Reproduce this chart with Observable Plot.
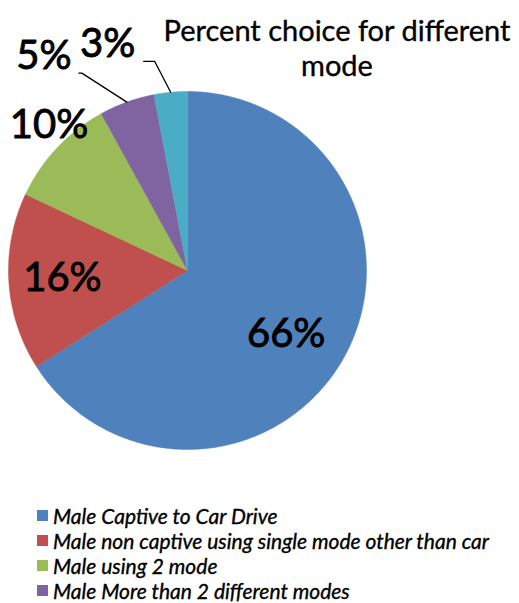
<!DOCTYPE html>
<html>
<head>
<meta charset="utf-8">
<script src="https://cdn.jsdelivr.net/npm/d3@7"></script>
<script src="https://cdn.jsdelivr.net/npm/@observablehq/plot@0.6"></script>
<style>
  html, body { margin: 0; padding: 0; background: #fff; }
  body { width: 519px; height: 603px; overflow: hidden; position: relative; font-family: Lato, "Open Sans", sans-serif; }
  #title { position: absolute; left: 147px; top: 12px; width: 380px; text-align: center; font-size: 29px; line-height: 35px; color: #000; -webkit-text-stroke: 0.35px #000; }
  #chart { position: absolute; left: 0; top: 0; }
  #legend { position: absolute; left: 37px; top: 503px; font-style: italic; font-size: 21px; color: #000; -webkit-text-stroke: 0.35px #000; }
  .row { height: 25px; display: flex; align-items: center; white-space: nowrap; }
  .row span.t { line-height: 1; }
  .sw { width: 11px; height: 11px; margin-right: 5px; flex: none; -webkit-text-stroke: 0; }
</style>
</head>
<body>
<div id="chart"></div>
<div id="title">Percent choice for different<br>mode</div>
<div id="legend"></div>
<script>
// ---- data ----
const categories = [
  "Male Captive to Car Drive",
  "Male non captive using single mode other than car",
  "Male using 2 mode",
  "Male More than 2 different modes",
  "Male other"
];
const percents = [66, 16, 10, 5, 3];
const colors = ["#4F81BD", "#C0504D", "#9BBB59", "#8064A2", "#4BACC6"];
const legendShown = 4; // the fifth entry falls below the visible frame

// ---- layout / style (pixels) ----
const W = 519, H = 500;
const R = 179; // pixel radius implied by scale ranges below
const labelStyle = [
  {type: "inside", f: 0.68, dx: -8, dy: 5},
  {type: "inside", f: 0.70, dx: 0, dy: 0},
  {type: "outside", dx: -8, dy: -23},
  {type: "leader", elbow: [-45, -29], seg: -3, text: [-35, -17]},
  {type: "leader", elbow: [-16, -31], seg: -11, text: [-36, -17]}
];

const data = categories.map((c, i) => ({key: c, value: percents[i], color: colors[i], i}));
const arcs = d3.pie().value(d => d.value).sort(null).startAngle(0).endAngle(2 * Math.PI)(data);

// slice polygons
const poly = [];
for (const a of arcs) {
  poly.push({key: a.data.key, x: 0, y: 0});
  const n = Math.max(2, Math.ceil((a.endAngle - a.startAngle) / (Math.PI / 360)));
  for (let k = 0; k <= n; k++) {
    const t = a.startAngle + (a.endAngle - a.startAngle) * k / n;
    poly.push({key: a.data.key, x: Math.sin(t), y: Math.cos(t)});
  }
  poly.push({key: a.data.key, x: 0, y: 0});
}

// labels and leader lines
const labels = [];
const leaders = [];
arcs.forEach((a, i) => {
  const s = labelStyle[i];
  const m = (a.startAngle + a.endAngle) / 2;
  const ax = Math.sin(m), ay = Math.cos(m);
  const txt = a.data.value + "%";
  if (s.type === "inside") {
    labels.push({x: ax * s.f + s.dx / R, y: ay * s.f - s.dy / R, text: txt});
  } else if (s.type === "outside") {
    labels.push({x: ax + s.dx / R, y: ay - s.dy / R, text: txt});
  } else {
    const ex = ax + s.elbow[0] / R, ey = ay - s.elbow[1] / R;
    const hx = ex + s.seg / R;
    leaders.push({id: i, x: ax, y: ay}, {id: i, x: ex, y: ey}, {id: i, x: hx, y: ey});
    labels.push({x: hx + s.text[0] / R, y: ey - s.text[1] / R, text: txt});
  }
});

const plot = Plot.plot({
  width: W,
  height: H,
  marginLeft: 8,
  marginRight: W - 8 - 2 * R,
  marginTop: 91,
  marginBottom: H - 91 - 2 * R,
  x: {domain: [-1, 1], axis: null},
  y: {domain: [-1, 1], axis: null},
  style: {fontFamily: "Lato, 'Open Sans', sans-serif", background: "#fff", overflow: "visible"},
  marks: [
    Plot.line(poly, {x: "x", y: "y", z: "key", fill: d => colors[categories.indexOf(d.key)], stroke: d => colors[categories.indexOf(d.key)], strokeWidth: 0.5, curve: "linear"}),
    Plot.line(leaders, {x: "x", y: "y", z: "id", stroke: "#000", strokeWidth: 1.3}),
    Plot.text(labels, {x: "x", y: "y", text: "text", fontSize: 40, fill: "#000", stroke: "#000", strokeWidth: 0.9, textAnchor: "middle", lineAnchor: "middle"})
  ]
});
document.getElementById("chart").appendChild(plot);

// legend
const lg = document.getElementById("legend");
categories.slice(0, legendShown).forEach((c, i) => {
  const row = document.createElement("div");
  row.className = "row";
  const sw = document.createElement("span");
  sw.className = "sw";
  sw.style.background = colors[i];
  const tx = document.createElement("span");
  tx.className = "t";
  tx.textContent = c;
  row.appendChild(sw); row.appendChild(tx);
  lg.appendChild(row);
});
</script>
</body>
</html>
